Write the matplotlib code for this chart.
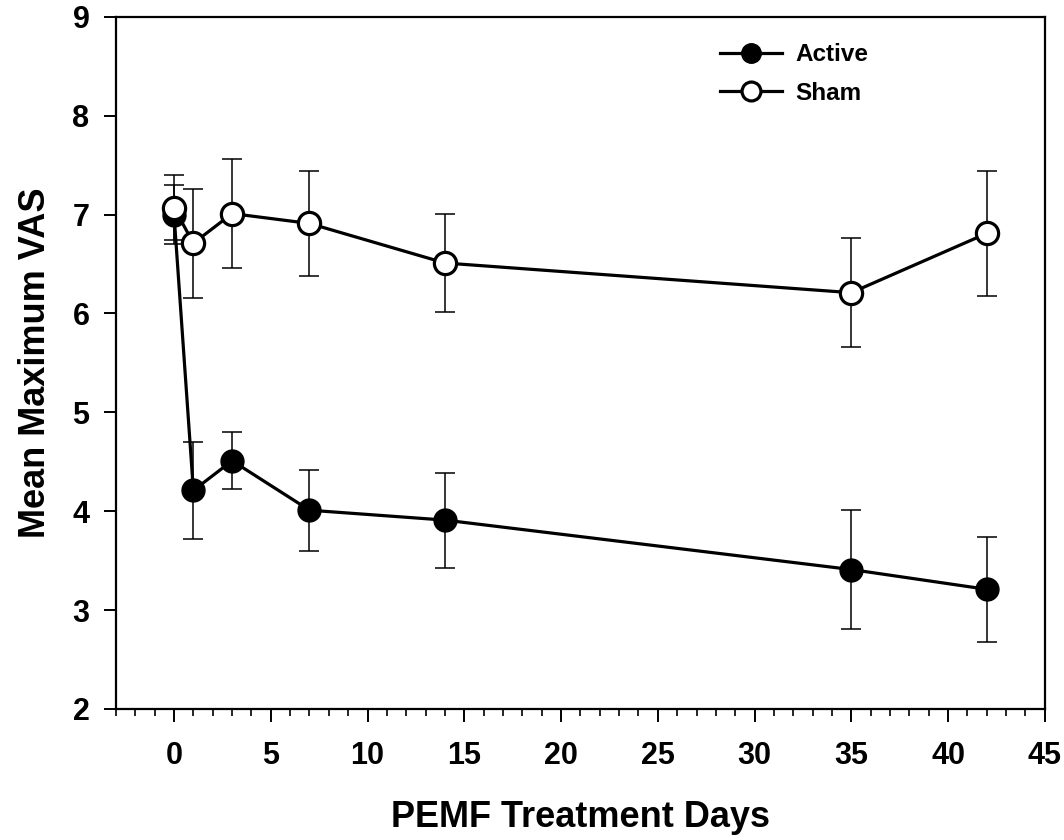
import matplotlib
matplotlib.use("Agg")
import matplotlib.pyplot as plt
from matplotlib.ticker import MultipleLocator

plt.rcParams['font.family'] = ['Liberation Sans', 'DejaVu Sans']
plt.rcParams['font.weight'] = 'bold'

days = [0, 1, 3, 7, 14, 35, 42]

active_mean = [7.0, 4.21, 4.51, 4.01, 3.91, 3.41, 3.21]
active_err = [0.30, 0.49, 0.29, 0.41, 0.48, 0.60, 0.53]

sham_mean = [7.07, 6.71, 7.01, 6.91, 6.51, 6.21, 6.81]
sham_err = [0.33, 0.55, 0.55, 0.53, 0.50, 0.55, 0.63]

fig = plt.figure(figsize=(10.64, 8.4), dpi=100)
ax = fig.add_axes([0.109, 0.156, 0.873, 0.824])

act = ax.errorbar(days, active_mean, yerr=active_err, color='black', lw=2.3,
                  marker='o', ms=16.5, mfc='black', mec='black',
                  ecolor='black', elinewidth=1.1, capsize=7.5, capthick=1.1,
                  label='Active', zorder=3)
sham = ax.errorbar(days, sham_mean, yerr=sham_err, color='black', lw=2.3,
                   marker='o', ms=16, mfc='white', mec='black', mew=2.3,
                   ecolor='black', elinewidth=1.1, capsize=7.5, capthick=1.1,
                   label='Sham', zorder=4)
# caps pick up the marker edge width, put them back to thin lines
for c in list(act[1]) + list(sham[1]):
    c.set_markeredgewidth(1.1)

ax.set_xlim(-3, 45)
ax.set_ylim(2, 9)
ax.xaxis.set_major_locator(MultipleLocator(5))
ax.xaxis.set_minor_locator(MultipleLocator(1))
ax.yaxis.set_major_locator(MultipleLocator(1))
ax.tick_params(axis='both', which='major', length=9, width=1.4, labelsize=22)
ax.tick_params(axis='x', which='major', pad=14)
ax.tick_params(axis='y', which='major', pad=10)
ax.tick_params(axis='x', which='minor', length=5, width=1.2)
for s in ax.spines.values():
    s.set_linewidth(1.6)

ax.set_xlabel('PEMF Treatment Days', fontsize=26, fontweight='bold', labelpad=21)
ax.set_ylabel('Mean Maximum VAS', fontsize=26, fontweight='bold', labelpad=14)

handles, labels = ax.get_legend_handles_labels()
handles = [h[0] for h in handles]
ax.legend(handles, labels, loc='upper left', bbox_to_anchor=(0.650, 0.962),
          frameon=False, fontsize=17.5, handlelength=2.55, markerscale=0.85,
          labelspacing=0.65, handletextpad=0.55, borderpad=0, borderaxespad=0)

fig.savefig('out.png', dpi=100)
